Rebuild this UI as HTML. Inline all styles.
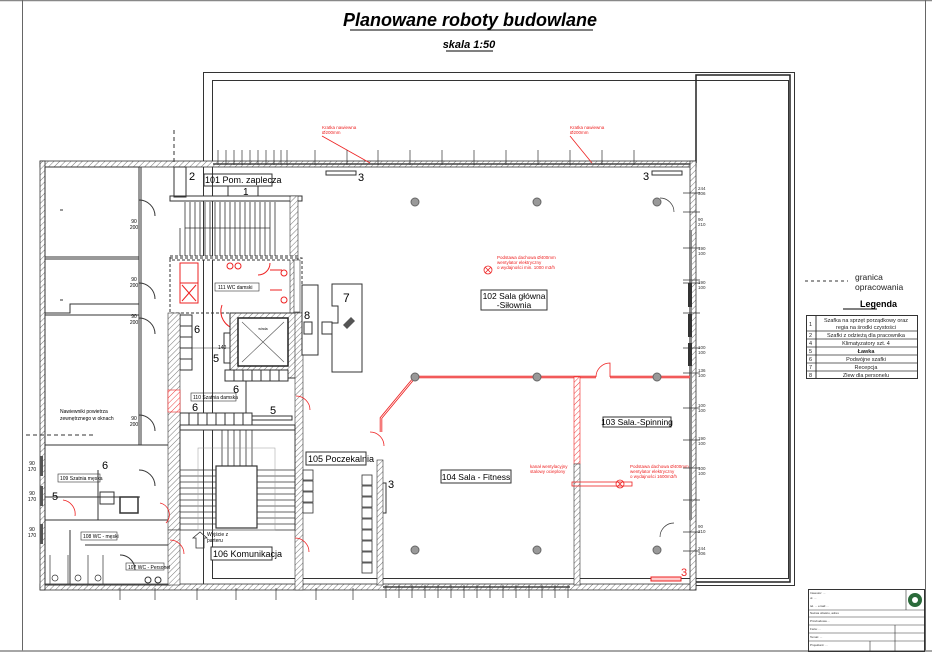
<!DOCTYPE html>
<html><head><meta charset="utf-8"><style>
html,body{margin:0;padding:0;background:#fff;}
svg{display:block;font-family:"Liberation Sans",sans-serif;}
</style></head><body>
<svg width="932" height="655" viewBox="0 0 932 655" xmlns="http://www.w3.org/2000/svg">
<defs>
<pattern id="h" width="4" height="4" patternUnits="userSpaceOnUse" patternTransform="rotate(45)">
<rect width="4" height="4" fill="#fff"/><line x1="0" y1="0" x2="0" y2="4" stroke="#777" stroke-width="1"/></pattern>
<pattern id="hr" width="4" height="4" patternUnits="userSpaceOnUse" patternTransform="rotate(45)">
<rect width="4" height="4" fill="#fff"/><line x1="0" y1="0" x2="0" y2="4" stroke="#e44" stroke-width="1"/></pattern>
</defs>
<!-- page frame -->
<line x1="0" y1="0.5" x2="932" y2="0.5" stroke="#888" stroke-width="1.5"/>
<line x1="22.5" y1="0" x2="22.5" y2="651" stroke="#666"/>
<line x1="925.5" y1="0" x2="925.5" y2="651" stroke="#666"/>
<line x1="0" y1="651" x2="932" y2="651" stroke="#888" stroke-width="1.5"/>
<!-- title -->
<text x="470" y="26" text-anchor="middle" font-size="18" font-style="italic" font-weight="bold">Planowane roboty budowlane</text>
<line x1="350" y1="30" x2="593" y2="30" stroke="#000"/>
<text x="469" y="48" text-anchor="middle" font-size="11" font-style="italic" font-weight="bold">skala 1:50</text>
<line x1="446" y1="51" x2="493" y2="51" stroke="#000"/>
<!-- outer boundary -->
<rect x="203.5" y="72.5" width="591" height="513" fill="none" stroke="#333"/>
<rect x="212.5" y="80.5" width="576" height="498" fill="none" stroke="#333"/>
<path d="M696 163 V75 H790 V582 H696" fill="none" stroke="#222" stroke-width="1.5"/>
<!-- building outer walls -->
<rect x="40" y="161" width="656" height="6" fill="url(#h)" stroke="#333" stroke-width="0.8"/>
<rect x="40" y="584" width="656" height="6" fill="url(#h)" stroke="#333" stroke-width="0.8"/>
<rect x="40" y="161" width="5" height="429" fill="url(#h)" stroke="#333" stroke-width="0.8"/>
<rect x="690" y="161" width="6" height="429" fill="url(#h)" stroke="#333" stroke-width="0.8"/>
<line x1="213" y1="164" x2="690" y2="164" stroke="#444" stroke-width="1.5"/>
<line x1="383" y1="587" x2="570" y2="587" stroke="#444" stroke-width="1.5"/>
<!-- right windows -->
<rect x="689" y="230" width="3" height="290" fill="#888"/>
<rect x="688" y="283" width="4" height="24" fill="#333"/>
<rect x="688" y="314" width="4" height="23" fill="#333"/>
<rect x="688" y="343" width="4" height="23" fill="#333"/>
<!-- left block rooms -->
<g fill="none" stroke="#333" stroke-width="1">
<rect x="45" y="167" width="94" height="90"/>
<rect x="45" y="259" width="94" height="56"/>
<path d="M45 313 V445 H139 V304 H70 V313 Z"/>
<line x1="139" y1="167" x2="139" y2="445"/>
<line x1="141" y1="167" x2="141" y2="445"/>
<rect x="45" y="445" width="125" height="140"/>
<line x1="45" y1="520" x2="170" y2="520"/>
<line x1="45" y1="497" x2="140" y2="497"/>
<line x1="98" y1="470" x2="98" y2="520"/>
<line x1="70" y1="530" x2="70" y2="584"/>
<line x1="85" y1="545" x2="170" y2="545"/>
<path d="M60 210 h3 M60 300 h3"/>
<path d="M139 200 a16 16 0 0 1 16 16 M139 283 a16 16 0 0 1 16 16 M139 318 a16 16 0 0 1 16 16 M139 415 a16 16 0 0 1 16 16 M139 470 a16 16 0 0 1 16 16 M120 555 a15 15 0 0 1 15 15"/>
</g>
<g font-size="5" fill="#000" text-anchor="middle">
<text x="134" y="223">90</text><text x="134" y="229">200</text>
<text x="134" y="281">90</text><text x="134" y="287">200</text>
<text x="134" y="318">90</text><text x="134" y="324">200</text>
<text x="134" y="420">90</text><text x="134" y="426">200</text>
<text x="32" y="465">90</text><text x="32" y="471">170</text>
<text x="32" y="495">90</text><text x="32" y="501">170</text>
<text x="32" y="531">90</text><text x="32" y="537">170</text>
</g>
<rect x="40" y="456" width="3" height="20" fill="#555"/><rect x="40" y="486" width="3" height="20" fill="#555"/><rect x="40" y="524" width="3" height="20" fill="#555"/>
<text x="60" y="413" font-size="5">Nawiewniki powietrza</text><text x="60" y="420" font-size="5">zewnętrznego w oknach</text>
<path d="M26 435 H95" stroke="#333" stroke-dasharray="4,3"/>
<path d="M174 130 V165" stroke="#333" stroke-dasharray="4,3"/>
<text x="60" y="480" font-size="5">109 Szatnia męska</text><rect x="58" y="474" width="42" height="8" fill="none" stroke="#333" stroke-width="0.6"/>
<text x="83" y="538" font-size="5">108 WC - męski</text><rect x="81" y="532" width="36" height="8" fill="none" stroke="#333" stroke-width="0.6"/>
<text x="102" y="469" font-size="11">6</text><text x="52" y="500" font-size="11">5</text>
<rect x="100" y="492" width="14" height="12" fill="none" stroke="#333"/><rect x="120" y="497" width="18" height="16" fill="none" stroke="#333" stroke-width="1.5"/>
<!-- central staircase top -->
<rect x="170" y="196" width="132" height="5" fill="#fff" stroke="#333"/>
<rect x="290" y="196" width="8" height="120" fill="url(#h)" stroke="#333" stroke-width="0.6"/>
<g stroke="#333" stroke-width="0.8">
<path d="M185 202 V258 M190 202 V258 M195 202 V258 M200 202 V258 M205 202 V258 M210 202 V258 M215 202 V258 M220 202 V258 M225 202 V258 M230 202 V258 M235 202 V258 M240 202 V258 M245 202 V258 M250 202 V258 M255 202 V258 M260 202 V258 M265 202 V258 M270 202 V258 M275 202 V258"/>
<path d="M185 228 H270 M180 228 V258" fill="none"/>
</g>
<rect x="170" y="256" width="128" height="4" fill="#fff" stroke="#333" stroke-dasharray="3,2"/>
<rect x="204" y="174" width="68" height="12" fill="none" stroke="#333"/>
<text x="205" y="183" font-size="9">101 Pom. zaplecza</text>
<rect x="174" y="167" width="12" height="30" fill="none" stroke="#333"/>
<text x="189" y="180" font-size="11">2</text>
<rect x="228" y="186" width="30" height="10" fill="none" stroke="#333"/>
<text x="243" y="195" font-size="10">1</text>
<!-- WC damski -->
<rect x="170" y="258" width="132" height="55" fill="none" stroke="#333" stroke-dasharray="3,2"/>
<g stroke="#e22" fill="none" stroke-width="1">
<rect x="180" y="263" width="18" height="40"/><line x1="180" y1="283" x2="198" y2="283"/>
<path d="M182 285 L196 301 M196 285 L182 301"/>
<path d="M270 270 h12 M270 290 h12 M258 275 a12 12 0 0 0 12 -12"/>
<circle cx="230" cy="266" r="3"/><circle cx="238" cy="266" r="3"/><circle cx="284" cy="273" r="3"/><circle cx="284" cy="300" r="3"/>
<path d="M222 305 a18 18 0 0 0 14 24"/>
</g>
<rect x="215" y="283" width="44" height="8" fill="none" stroke="#333" stroke-width="0.6"/><text x="218" y="289" font-size="5">111 WC damski</text>
<rect x="294" y="260" width="6" height="52" fill="#fff" stroke="#333" stroke-width="0.6"/>
<!-- elevator -->
<rect x="230" y="313" width="70" height="65" fill="url(#h)" stroke="#333"/>
<rect x="238" y="318" width="50" height="48" fill="#fff" stroke="#222" stroke-width="1.5"/>
<path d="M242 322 L284 362 M284 322 L242 362" stroke="#555" stroke-width="0.6"/>
<text x="263" y="330" font-size="3.5" text-anchor="middle">winda</text>
<rect x="224" y="333" width="6" height="30" fill="none" stroke="#333"/>
<rect x="225" y="370" width="63" height="11" fill="#fff" stroke="#333"/>
<path d="M234 370 V381 M243 370 V381 M252 370 V381 M261 370 V381 M270 370 V381 M279 370 V381" stroke="#333"/>
<text x="194" y="333" font-size="11">6</text><text x="213" y="362" font-size="11">5</text>
<text x="233" y="393" font-size="11">6</text><text x="192" y="411" font-size="11">6</text><text x="270" y="414" font-size="11">5</text>
<rect x="180" y="315" width="12" height="55" fill="none" stroke="#333"/>
<path d="M180 326 h12 M180 337 h12 M180 348 h12 M180 359 h12" stroke="#333"/>
<rect x="191" y="393" width="45" height="8" fill="none" stroke="#333" stroke-width="0.6"/><text x="193" y="399" font-size="5">110 Szatnia damska</text>
<rect x="180" y="413" width="72" height="12" fill="#fff" stroke="#333"/>
<path d="M189 413 V425 M198 413 V425 M207 413 V425 M216 413 V425 M225 413 V425 M234 413 V425 M243 413 V425" stroke="#333"/>
<rect x="252" y="416" width="40" height="4" fill="none" stroke="#333"/>
<line x1="246" y1="381" x2="246" y2="413" stroke="#333"/>
<text x="218" y="349" font-size="5">140</text><line x1="192" y1="348" x2="230" y2="348" stroke="#333" stroke-width="0.6"/>
<!-- hatched walls central -->
<rect x="168" y="313" width="12" height="217" fill="url(#h)" stroke="#333" stroke-width="0.6"/>
<rect x="168" y="390" width="12" height="22" fill="url(#hr)" stroke="#e22" stroke-width="0.6"/>
<rect x="295" y="313" width="8" height="277" fill="url(#h)" stroke="#333" stroke-width="0.6"/>
<rect x="180" y="425" width="115" height="5" fill="#fff" stroke="#333"/>
<!-- stair 106 -->
<g stroke="#333" stroke-width="0.8" fill="none">
<rect x="180" y="430" width="115" height="100"/>
<rect x="216" y="466" width="41" height="62" stroke-width="1.2"/>
<path d="M180 470 H216 M180 476 H216 M180 482 H216 M180 488 H216 M180 494 H216 M180 500 H216 M180 506 H216 M180 512 H216 M180 518 H216 M180 524 H216"/>
<path d="M257 470 H295 M257 476 H295 M257 482 H295 M257 488 H295 M257 494 H295 M257 500 H295 M257 506 H295 M257 512 H295 M257 518 H295 M257 524 H295"/>
<path d="M222 430 V466 M228 430 V466 M234 430 V466 M240 430 V466 M246 430 V466 M252 430 V466"/>
<rect x="198" y="448" width="77" height="82" stroke="#999" stroke-width="0.5"/>
<path d="M196 548 V538 H193 L200 532 L207 538 H204 V548 Z"/>
</g>
<text x="207" y="536" font-size="5">Wyjście z</text><text x="207" y="542" font-size="5">parteru</text>
<rect x="211" y="547" width="61" height="13" fill="#fff" stroke="#333"/>
<text x="213" y="557" font-size="9">106 Komunikacja</text>
<rect x="168" y="530" width="12" height="55" fill="url(#h)" stroke="#333" stroke-width="0.6"/>
<g stroke="#e22" fill="none" stroke-width="0.8">
<path d="M170 540 a14 14 0 0 1 14 14 M295 538 a14 14 0 0 1 14 14 M160 503 a12 12 0 0 1 6 20 M296 396 a14 14 0 0 1 14 14 M370 432 a14 14 0 0 1 14 14"/>
<path d="M63 500 a14 14 0 0 1 12 16"/>
</g>
<rect x="126" y="563" width="38" height="7" fill="none" stroke="#333" stroke-width="0.6"/><text x="128" y="569" font-size="5">107 WC - Personel</text>
<circle cx="148" cy="580" r="3" fill="none" stroke="#333"/><circle cx="158" cy="580" r="3" fill="none" stroke="#333"/>
<g fill="none" stroke="#333" stroke-width="0.7"><path d="M50 555 V584 M68 555 V584 M88 555 V584 M103 555 V584"/>
<circle cx="55" cy="578" r="3"/><circle cx="78" cy="578" r="3"/><circle cx="98" cy="578" r="3"/></g>
<!-- reception -->
<rect x="302" y="285" width="16" height="70" fill="#fff" stroke="#333"/>
<text x="304" y="319" font-size="11">8</text>
<rect x="304" y="322" width="8" height="12" fill="none" stroke="#333"/>
<rect x="322" y="322" width="10" height="12" fill="none" stroke="#333"/>
<path d="M332 284 H362 V372 H332 V323 H338 V306 H332 Z" fill="#fff" stroke="#333"/>
<text x="343" y="302" font-size="12">7</text>
<path d="M343 325 l8 -8 l4 4 l-8 8 z" fill="#555"/>
<!-- waiting chairs -->
<g fill="#fff" stroke="#333" stroke-width="0.8">
<rect x="303" y="470" width="10" height="10"/><rect x="303" y="481" width="10" height="10"/><rect x="303" y="492" width="10" height="10"/><rect x="303" y="503" width="10" height="10"/>
<rect x="362" y="475" width="10" height="10"/><rect x="362" y="486" width="10" height="10"/><rect x="362" y="497" width="10" height="10"/><rect x="362" y="508" width="10" height="10"/><rect x="362" y="519" width="10" height="10"/><rect x="362" y="530" width="10" height="10"/><rect x="362" y="541" width="10" height="10"/><rect x="362" y="552" width="10" height="10"/><rect x="362" y="563" width="10" height="10"/>
</g>
<rect x="306" y="452" width="60" height="13" fill="#fff" stroke="#333"/>
<text x="308" y="462" font-size="9">105 Poczekalnia</text>
<rect x="382" y="483" width="4" height="30" fill="#fff" stroke="#333"/><text x="388" y="488" font-size="11">3</text>
<!-- hall walls -->
<rect x="377" y="460" width="6" height="125" fill="url(#h)" stroke="#333" stroke-width="0.6"/>
<path d="M415 377 L381 418 V432" stroke="#e22" stroke-width="2.5" fill="none"/>
<path d="M415 377 L381 418 V432" stroke="#fff" stroke-width="0.8" fill="none"/>
<line x1="415" y1="377" x2="596" y2="377" stroke="#e22" stroke-width="2.5"/>
<line x1="610" y1="377" x2="690" y2="377" stroke="#e22" stroke-width="2.5"/>
<line x1="415" y1="377" x2="690" y2="377" stroke="#fff" stroke-width="0.6"/>
<rect x="574" y="377" width="6" height="87" fill="url(#hr)" stroke="#e22" stroke-width="0.6"/>
<rect x="574" y="464" width="6" height="121" fill="url(#h)" stroke="#333" stroke-width="0.6"/>
<path d="M596 377 a14 14 0 0 1 14 -14 V377" fill="none" stroke="#e22" stroke-width="0.8"/>
<path d="M674 212 a14 14 0 0 0 -14 -14 M674 523 a14 14 0 0 0 -14 14" fill="none" stroke="#333" stroke-width="0.7"/>
<!-- columns -->
<g fill="#999" stroke="#666"><circle cx="415" cy="202" r="4"/><circle cx="537" cy="202" r="4"/><circle cx="657" cy="202" r="4"/>
<circle cx="415" cy="377" r="4"/><circle cx="537" cy="377" r="4"/><circle cx="657" cy="377" r="4"/>
<circle cx="415" cy="550" r="4"/><circle cx="537" cy="550" r="4"/><circle cx="657" cy="550" r="4"/></g>
<!-- room labels -->
<rect x="481" y="290" width="66" height="20" fill="#fff" stroke="#333"/>
<text x="514" y="299" font-size="8.5" text-anchor="middle">102 Sala główna</text>
<text x="514" y="308" font-size="8.5" text-anchor="middle">-Siłownia</text>
<rect x="603" y="417" width="68" height="10" fill="#fff" stroke="#333"/>
<text x="637" y="425" font-size="8.5" text-anchor="middle">103 Sala.-Spinning</text>
<rect x="441" y="470" width="70" height="13" fill="#fff" stroke="#333"/>
<text x="476" y="480" font-size="8.5" text-anchor="middle">104 Sala - Fitness</text>
<!-- radiators 3 -->
<rect x="326" y="171" width="30" height="4" fill="#fff" stroke="#333"/><text x="358" y="181" font-size="11">3</text>
<rect x="652" y="171" width="30" height="4" fill="#fff" stroke="#333"/><text x="643" y="180" font-size="11">3</text>
<rect x="651" y="577" width="30" height="4" fill="#fcc" stroke="#e22"/><text x="681" y="576" font-size="11" fill="#e22">3</text>
<!-- red annotations -->
<g fill="#e22" font-size="4.5">
<text x="322" y="129">Kratka nawiewna</text><text x="322" y="134">Ø200mm</text>
<text x="570" y="129">Kratka nawiewna</text><text x="570" y="134">Ø200mm</text>
<text x="497" y="259">Podstawa dachowa Ø400mm</text><text x="497" y="264">wentylator elektryczny</text><text x="497" y="269">o wydajności min. 1000 m3/h</text>
<text x="630" y="468">Podstawa dachowa Ø400mm</text><text x="630" y="473">wentylator elektryczny</text><text x="630" y="478">o wydajności 1600m3/h</text>
<text x="530" y="468">kanał wentylacyjny</text><text x="530" y="473">stalowy ocieplony</text>
</g>
<g stroke="#e22" fill="none" stroke-width="0.8">
<circle cx="488" cy="270" r="4"/><path d="M485 267 l6 6 M491 267 l-6 6"/>
<circle cx="620" cy="484" r="4"/><path d="M617 481 l6 6 M623 481 l-6 6"/>
<line x1="322" y1="136" x2="370" y2="163"/><line x1="570" y1="136" x2="592" y2="163"/>
<rect x="572" y="482" width="60" height="4"/>
</g>
<!-- dimension ticks -->
<g stroke="#333" stroke-width="0.7">
<path d="M218 150 V165 M226 150 V165 M234 150 V165 M242 150 V165 M250 150 V165 M258 150 V165 M266 150 V165 M274 150 V165 M281 150 V165 M287 150 V165 M315 150 V165 M347 150 V165 M378 150 V165 M410 150 V165 M442 150 V165 M474 150 V165 M506 150 V165 M538 150 V165 M570 150 V165 M602 150 V165 M634 150 V165"/>
<path d="M120 588 V600 M155 588 V600 M197 588 V600 M236 588 V600 M276 588 V600 M316 588 V600 M353 588 V600"/>
<path d="M386 585 V598 M399 585 V598 M412 585 V598 M425 585 V598 M438 585 V598 M451 585 V598 M464 585 V598 M477 585 V598 M490 585 V598 M503 585 V598 M516 585 V598 M529 585 V598 M542 585 V598 M555 585 V598 M568 585 V598"/>
<path d="M683 193 H700 M683 212 H700 M683 248 H700 M683 280 H700 M683 283 H700 M683 313 H700 M683 348 H700 M683 373 H700 M683 408 H700 M683 440 H700 M683 468 H700 M683 500 H700 M683 532 H700 M683 551 H700"/>
</g>
<g font-size="4.5" fill="#333">
<text x="698" y="190">244</text><text x="698" y="195">306</text>
<text x="698" y="221">90</text><text x="698" y="226">210</text>
<text x="698" y="250">190</text><text x="698" y="255">100</text>
<text x="698" y="284">190</text><text x="698" y="289">100</text>
<text x="698" y="349">100</text><text x="698" y="354">100</text>
<text x="698" y="372">136</text><text x="698" y="377">100</text>
<text x="698" y="407">100</text><text x="698" y="412">100</text>
<text x="698" y="440">190</text><text x="698" y="445">100</text>
<text x="698" y="470">100</text><text x="698" y="475">100</text>
<text x="698" y="528">90</text><text x="698" y="533">210</text>
<text x="698" y="550">244</text><text x="698" y="555">306</text>
</g>
<!-- legend -->
<path d="M805 281 H848" stroke="#333" stroke-dasharray="3,3"/>
<text x="855" y="280" font-size="8.5" fill="#222">granica</text>
<text x="855" y="290" font-size="8.5" fill="#222">opracowania</text>
<text x="860" y="307" font-size="9" font-weight="bold">Legenda</text>
<line x1="843" y1="309" x2="877" y2="309" stroke="#000"/>
<rect x="806.5" y="315.5" width="111" height="63" fill="none" stroke="#333"/>
<line x1="816" y1="315" x2="816" y2="378" stroke="#333"/>
<g stroke="#333" stroke-width="0.8"><path d="M806 331 H917 M806 339 H917 M806 347 H917 M806 355 H917 M806 363 H917 M806 371 H917"/></g>
<g font-size="5.5" fill="#222">
<text x="809" y="326">1</text><text x="809" y="337">2</text><text x="809" y="345">4</text><text x="809" y="353">5</text><text x="809" y="361">6</text><text x="809" y="369">7</text><text x="809" y="377">8</text>
<g text-anchor="middle"><text x="866" y="322">Szafka na sprzęt porządkowy oraz</text><text x="866" y="329">regia na środki czystości</text>
<text x="866" y="337">Szafki z odzieżą dla pracownika</text><text x="866" y="345">Klimatyzatory szt. 4</text>
<text x="866" y="353" font-weight="bold">Ławka</text><text x="866" y="361">Podwójne szafki</text><text x="866" y="369">Recepcja</text><text x="866" y="377">Zlew dla personelu</text></g>
</g>
<!-- title block -->
<rect x="808.5" y="589.5" width="116" height="62" fill="none" stroke="#333"/>
<g stroke="#333" stroke-width="0.6"><path d="M808 610 H925 M808 617 H925 M808 625 H925 M808 633 H925 M808 641 H925 M906 590 V610 M895 625 V651 M870 641 V651"/></g>
<circle cx="915" cy="600" r="7" fill="#2a6a3a"/><circle cx="915" cy="600" r="3" fill="#fff"/>
<g font-size="3" fill="#333"><text x="810" y="594">Inwestor: ...</text><text x="810" y="599">ul. ...</text><text x="810" y="607">tel. ... email ...</text>
<text x="810" y="614">Nazwa obiektu, adres</text><text x="810" y="622">Przebudowa ...</text><text x="810" y="630">Faza: ...</text><text x="810" y="638">Temat: ...</text><text x="810" y="646">Projektant: ...</text></g>
</svg>
</body></html>
